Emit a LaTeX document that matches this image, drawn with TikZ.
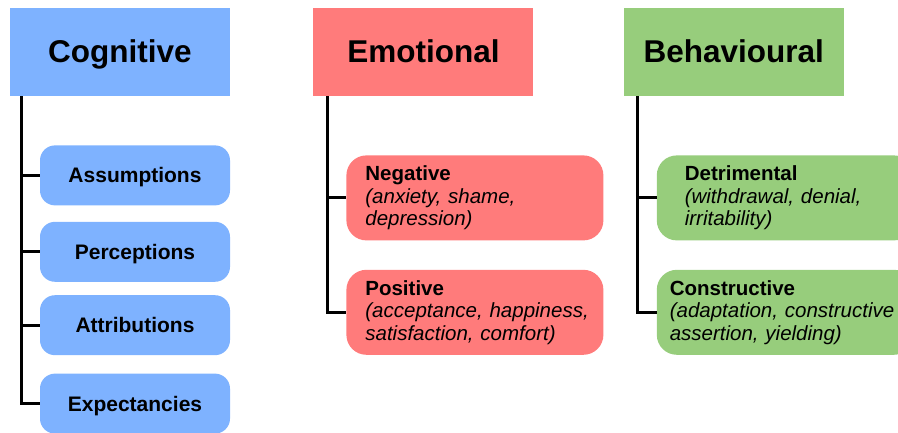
\documentclass[tikz,border=0pt]{standalone}
\usepackage{fontspec}
\setmainfont{Liberation Sans}
\usetikzlibrary{positioning}

\definecolor{cogblue}{HTML}{7EB2FF}
\definecolor{emored}{HTML}{FF7B7B}
\definecolor{behgreen}{HTML}{97CD7C}

\begin{document}
\begin{tikzpicture}[
			x=1pt, y=1pt,
			head/.style={rectangle, minimum width=220pt, minimum height=88pt, inner sep=0pt, text height=22pt, text depth=0pt, font=\fontsize{31.5}{37}\selectfont\bfseries},
			item/.style={rectangle, rounded corners=15pt, minimum width=190pt, minimum height=60pt, inner sep=0pt, text height=15pt, text depth=0pt, fill=cogblue, font=\fontsize{21}{24}\selectfont\bfseries},
			detail/.style={rectangle, rounded corners=20pt, minimum height=85pt, align=left, font=\fontsize{20.5}{22.5}\selectfont},
			branch/.style={line width=3pt, draw=black}
			]
			\useasboundingbox (0,0) rectangle (898,-433);
			
			% Main headers - horizontal
			\node[head, fill=cogblue] (cog) at (120,-52) {Cognitive};
			\node[head, fill=emored, right=83pt of cog] (emo) {Emotional};
			\node[head, fill=behgreen, right=90pt of emo] (beh) {Behavioural};
			
			% Cognitive items
			\node[item, below=49pt of cog, xshift=15pt] (assump) {Assumptions};
			\node[item, below=16pt of assump] (percep) {Perceptions};
			\node[item, below=13pt of percep] (attrib) {Attributions};
			\node[item, below=18pt of attrib] (expect) {Expectancies};
			
			% Emotional items
			\node[detail, fill=emored, text width=219pt, inner xsep=19pt, below=59pt of emo.south west, anchor=north west, xshift=33pt] (neg) {\textbf{Negative}\\\mbox{\textit{(anxiety, shame,}}\\\mbox{\textit{depression)}}};
			\node[detail, fill=emored, text width=219pt, inner xsep=19pt, below=29pt of neg] (pos) {\textbf{Positive}\\\mbox{\textit{(acceptance, happiness,}}\\\mbox{\textit{satisfaction, comfort)}}};
			
			% Behavioural items
			\node[detail, fill=behgreen, text width=201pt, inner xsep=28pt, below=59pt of beh.south west, anchor=north west, xshift=33pt] (detr) {\textbf{Detrimental}\\\mbox{\textit{(withdrawal, denial,}}\\\mbox{\textit{irritability)}}};
			\node[detail, fill=behgreen, text width=231pt, inner xsep=13pt, below=29pt of detr] (cons) {\textbf{Constructive}\\\mbox{\textit{(adaptation, constructive}}\\\mbox{\textit{assertion, yielding)}}};
			
			% Branch connections
			\draw[branch] ([xshift=12pt]cog.south west) |- (assump.west);
			\draw[branch] ([xshift=12pt]cog.south west) |- (percep.west);
			\draw[branch] ([xshift=12pt]cog.south west) |- (attrib.west);
			\draw[branch] ([xshift=12pt]cog.south west) |- (expect.west);
			\draw[branch] ([xshift=14pt]emo.south west) |- (neg.west);
			\draw[branch] ([xshift=14pt]emo.south west) |- (pos.west);
			\draw[branch] ([xshift=14pt]beh.south west) |- (detr.west);
			\draw[branch] ([xshift=14pt]beh.south west) |- (cons.west);
			
		\end{tikzpicture}
\end{document}
